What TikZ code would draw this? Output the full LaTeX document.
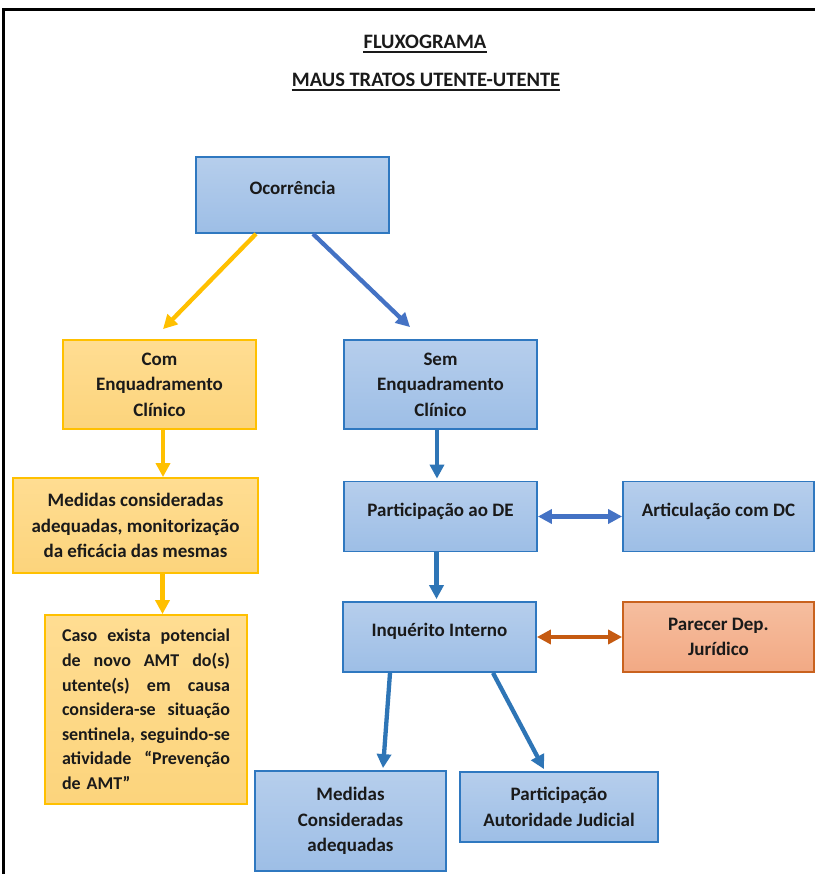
\documentclass[tikz,border=0pt]{standalone}
\usepackage{fontspec}
\setmainfont{Carlito}
\usetikzlibrary{arrows.meta,calc}
\definecolor{txt}{HTML}{1A1A1A}
\definecolor{blueTop}{HTML}{B6CEEC}
\definecolor{blueBot}{HTML}{9DBEE6}
\definecolor{blueLine}{HTML}{2F78C0}
\definecolor{yelTop}{HTML}{FFDD92}
\definecolor{yelBot}{HTML}{FCD47C}
\definecolor{yelLine}{HTML}{FFC000}
\definecolor{orTop}{HTML}{F6BE9F}
\definecolor{orBot}{HTML}{F2A984}
\definecolor{orLine}{HTML}{C9621E}
\definecolor{arrSteel}{HTML}{4472C4}
\definecolor{arrBlue}{HTML}{2E75B6}
\definecolor{arrOr}{HTML}{C55A11}
\tikzset{
  boxbase/.style={rectangle, line width=1.8pt, inner sep=0pt, text=txt,
    font=\fontsize{19}{25.5}\selectfont\bfseries},
  bluebox/.style={boxbase, draw=blueLine, top color=blueTop, bottom color=blueBot},
  yelbox/.style={boxbase, draw=yelLine, top color=yelTop, bottom color=yelBot},
  orbox/.style={boxbase, draw=orLine, top color=orTop, bottom color=orBot},
  uptext/.style={text depth=14pt},
  titletext/.style={inner sep=0pt, anchor=base, text=txt,
    font=\fontsize{20.5}{24}\selectfont\bfseries},
  tipA/.tip={Triangle[length=14pt,width=14pt]},
  arr/.style={line width=4.3pt, -tipA},
  darr/.style={line width=4.3pt, tipA-tipA},
}
\newcommand{\jl}[1]{\hbox to 168pt{#1}}
\begin{document}
\begin{tikzpicture}[x=1pt,y=-1pt]
\useasboundingbox (0,0) rectangle (815,874);
\fill[white] (0,0) rectangle (815,874);
% frame
\draw[line width=2.2pt, black] (3.5,874) -- (3.5,9.5) -- (815,9.5);

% titles
\node[titletext] (t1) at (425,49) {FLUXOGRAMA};
\draw[line width=1.3pt, txt] ([yshift=-3pt]t1.base west) -- ([yshift=-3pt]t1.base east);
\node[titletext] (t2) at (426,87) {MAUS TRATOS UTENTE-UTENTE};
\draw[line width=1.3pt, txt] ([yshift=-3pt]t2.base west) -- ([yshift=-3pt]t2.base east);

% boxes
\node[bluebox, uptext, minimum width=193pt, minimum height=76pt] (oc) at (292.5,195) {Ocorrência};
\node[yelbox, align=center, minimum width=193pt, minimum height=89pt] (com) at (159.5,384.5) {Com\\Enquadramento\\Clínico};
\node[bluebox, align=center, minimum width=193pt, minimum height=89pt] (sem) at (440.5,384.5) {Sem\\Enquadramento\\Clínico};
\node[yelbox, align=center, minimum width=245pt, minimum height=95pt] (med) at (135.5,525.5) {Medidas consideradas\\adequadas, monitorização\\da eficácia das mesmas};
\node[yelbox, font=\fontsize{18}{24.6}\selectfont\bfseries, align=left, text width=168pt, minimum width=202pt, minimum height=189pt] (caso) at (146,709.5) {%
\jl{Caso\hfill exista\hfill potencial}
\jl{de\hfill novo\hfill AMT\hfill do(s)}
\jl{utente(s)\hfill em\hfill causa}
\jl{considera-se\hfill situação}
\jl{sentinela,\hfill seguindo-se}
\jl{atividade\hfill “Prevenção}
\jl{de AMT”\hfill}};
\node[bluebox, uptext, minimum width=193pt, minimum height=70pt] (pde) at (440.5,516.5) {Participação ao DE};
\node[bluebox, uptext, minimum width=191pt, minimum height=70pt] (art) at (718.5,516.5) {Articulação com DC};
\node[bluebox, uptext, minimum width=193pt, minimum height=70pt] (inq) at (439.5,637) {Inquérito Interno};
\node[orbox, align=center, minimum width=191pt, minimum height=70pt] (par) at (718.5,637) {Parecer Dep.\\Jurídico};
\node[bluebox, align=center, minimum width=191pt, minimum height=100pt] (mca) at (350.5,821) {Medidas\\Consideradas\\adequadas};
\node[bluebox, align=center, minimum width=198pt, minimum height=70pt] (paj) at (559,807) {Participação\\Autoridade Judicial};

% connectors
\draw[arr, yelLine] ([xshift=-36.5pt]oc.south) -- ([xshift=3.5pt,yshift=10pt]com.north);
\draw[arr, arrSteel] ([xshift=20.5pt]oc.south) -- ([xshift=-30.5pt,yshift=12pt]sem.north);
\draw[arr, yelLine] ([xshift=3.5pt]com.south) -- ([xshift=3.5pt]com.south |- med.north);
\draw[arr, yelLine] ([xshift=27pt]med.south) -- ([xshift=27pt]med.south |- caso.north);
\draw[arr, arrBlue] ([xshift=-3.5pt]sem.south) -- ([xshift=-3.5pt,yshift=2pt]sem.south |- pde.north);
\draw[darr, arrSteel] (pde.east) -- (art.west);
\draw[arr, arrBlue] ([xshift=-4pt]pde.south) -- ([xshift=-4pt,yshift=2pt]pde.south |- inq.north);
\draw[darr, arrOr] (inq.east) -- (par.west);
\draw[arr, arrBlue] ([xshift=-49.5pt]inq.south) -- ([xshift=32.5pt,yshift=2pt]mca.north);
\draw[arr, arrBlue] ([xshift=53.5pt]inq.south) -- ([xshift=-15pt,yshift=2pt]paj.north);
\end{tikzpicture}
\end{document}
